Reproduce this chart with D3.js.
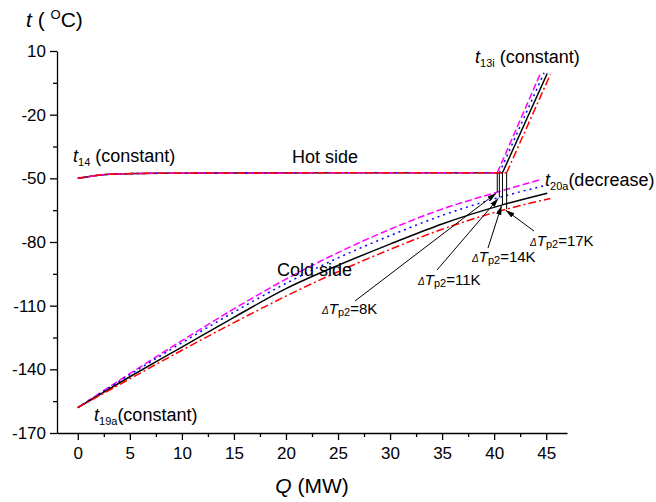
<!DOCTYPE html>
<html>
<head>
<meta charset="utf-8">
<script src="https://cdn.jsdelivr.net/npm/d3@7"></script>
<style>
  body { margin: 0; background: #fff; }
  svg { font-family: "Liberation Sans", Arial, sans-serif; }
  .axis path, .axis line { stroke: #000; stroke-width: 1.3; }
  .axis text { font-size: 17px; fill: #000; }
</style>
</head>
<body>
<div id="chart"></div>
<script>
// x ticks / y ticks
const xTicks = [0, 5, 10, 15, 20, 25, 30, 35, 40, 45];
const yTicks = [10, -20, -50, -80, -110, -140, -170];

// four pinch cases: dTp2 = 8, 11, 14, 17 K
const caseNames = ['8K', '11K', '14K', '17K'];
const caseColors = ['#ff00ff', '#0000ff', '#000000', '#ff0000'];
const caseDash = ['7,3', '2,4', null, '8,3,2,3'];

// hot side (common part before the pinch)
const hotQ = [0, 1, 2, 3, 4, 6, 8, 15, 25, 35];
const hotT = [-50, -49.2, -48.5, -48.1, -47.9, -47.7, -47.6, -47.5, -47.4, -47.4];
const pinchQ = [40.3, 40.5, 40.8, 41.2];
const pinchHotT = [-47.4, -47.4, -47.4, -47.4];
const hotEndQ = [44.5, 44.8, 45.1, 45.4];
const hotEndT = [0, -0.3, -0.6, -1];

// cold side
const coldQ = [0, 5, 10, 15, 20, 25, 30, 35];
const coldT8 = [-158, -142, -126.5, -111.5, -97.5, -85, -74, -64.5];
const coldT11 = [-158, -142.5, -127.5, -113, -99.5, -87.5, -77, -67.5];
const coldT14 = [-158, -143.5, -129.5, -115.5, -102, -91, -81, -71.5];
const coldT17 = [-158, -144.5, -131, -118, -105.5, -94, -83.5, -74];
const pinchColdT = [-56.5, -59, -62.5, -64.5];
const coldEndT = [-50.5, -53.5, -57, -59.5];
const coldSets = [coldT8, coldT11, coldT14, coldT17];

const W = 656, H = 502;
const svg = d3.select('#chart').append('svg').attr('width', W).attr('height', H);

const x = d3.scaleLinear().domain([-2, 47]).range([57, 567]);
const y = d3.scaleLinear().domain([-170, 10]).range([433, 51]);

// axes
const xMinor = d3.range(2.5, 45, 5);
const yMinor = d3.range(-155, 10, 30);
const fmt = d => String(d);

svg.append('g').attr('class', 'axis').attr('transform', `translate(0,${y(-170)})`)
  .call(d3.axisBottom(x).tickValues(xTicks).tickFormat(fmt).tickSize(7).tickSizeOuter(0).tickPadding(7));
svg.append('g').attr('class', 'axis').attr('transform', `translate(0,${y(-170)})`)
  .call(d3.axisBottom(x).tickValues(xMinor).tickSize(4).tickFormat(''))
  .select('.domain').remove();
svg.append('g').attr('class', 'axis').attr('transform', `translate(${x(-2)},0)`)
  .call(d3.axisLeft(y).tickValues(yTicks).tickFormat(fmt).tickSize(7).tickSizeOuter(0).tickPadding(4));
svg.append('g').attr('class', 'axis').attr('transform', `translate(${x(-2)},0)`)
  .call(d3.axisLeft(y).tickValues(yMinor).tickSize(4).tickFormat(''))
  .select('.domain').remove();

const line = d3.line().x(d => x(d[0])).y(d => y(d[1])).curve(d3.curveMonotoneX);
const plot = svg.append('g');

// cold curves
caseNames.forEach((c, i) => {
  const pts = coldQ.map((q, j) => [q, coldSets[i][j]]);
  pts.push([pinchQ[i], pinchColdT[i]], [hotEndQ[i], coldEndT[i]]);
  plot.append('path').datum(pts)
    .attr('d', line).attr('fill', 'none')
    .attr('stroke', caseColors[i]).attr('stroke-width', 1.5)
    .attr('stroke-dasharray', caseDash[i]);
});

// vertical pinch lines
caseNames.forEach((c, i) => {
  plot.append('line')
    .attr('x1', x(pinchQ[i])).attr('x2', x(pinchQ[i]))
    .attr('y1', y(pinchHotT[i])).attr('y2', y(pinchColdT[i]))
    .attr('stroke', '#000').attr('stroke-width', 1);
});

// hot curves, red drawn last
[2, 1, 0, 3].forEach(i => {
  const flat = hotQ.map((q, j) => [q, hotT[j]]);
  flat.push([pinchQ[i], pinchHotT[i]]);
  plot.append('path').datum(flat)
    .attr('d', line).attr('fill', 'none')
    .attr('stroke', caseColors[i]).attr('stroke-width', 1.5)
    .attr('stroke-dasharray', caseDash[i]);
  plot.append('path').datum([[pinchQ[i], pinchHotT[i]], [hotEndQ[i], hotEndT[i]]])
    .attr('d', d3.line().x(d => x(d[0])).y(d => y(d[1]))).attr('fill', 'none')
    .attr('stroke', caseColors[i]).attr('stroke-width', 1.5)
    .attr('stroke-dasharray', caseDash[i]);
});

// arrows
svg.append('defs').append('marker')
  .attr('id', 'arr').attr('viewBox', '0 -5 10 10')
  .attr('refX', 10).attr('refY', 0)
  .attr('markerWidth', 9).attr('markerHeight', 9)
  .attr('markerUnits', 'userSpaceOnUse')
  .attr('orient', 'auto')
  .append('path').attr('d', 'M0,-3L10,0L0,3Z').attr('fill', '#000');

const arrowFrom = [[355, 301], [437, 270], [488, 248], [534, 231]];
caseNames.forEach((c, i) => {
  plot.append('line')
    .attr('x1', arrowFrom[i][0]).attr('y1', arrowFrom[i][1])
    .attr('x2', x(pinchQ[i]) - 1).attr('y2', y(pinchColdT[i]) + 1)
    .attr('stroke', '#000').attr('stroke-width', 1)
    .attr('marker-end', 'url(#arr)');
});

// text helpers
function subLabel(px, py, main, sub, rest) {
  const t = svg.append('text').attr('x', px).attr('y', py).attr('font-size', 18);
  t.append('tspan').attr('font-style', 'italic').text(main);
  t.append('tspan').attr('font-size', 11).attr('dy', 4).text(sub);
  t.append('tspan').attr('dy', -4).text(rest);
  return t;
}

subLabel(73, 162, 't', '14', ' (constant)');
subLabel(475, 63, 't', '13i', '  (constant)');
subLabel(545, 186, 't', '20a', '(decrease)');
subLabel(94, 421, 't', '19a', '(constant)');

svg.append('text').attr('x', 292).attr('y', 163).attr('font-size', 18).text('Hot side');
svg.append('text').attr('x', 277).attr('y', 276).attr('font-size', 18).text('Cold side');

const dtPos = [[322, 314], [418, 285], [472, 262], [530, 246]];
caseNames.forEach((c, i) => {
  const t = svg.append('text').attr('x', dtPos[i][0]).attr('y', dtPos[i][1]).attr('font-size', 15);
  t.append('tspan').attr('font-size', 10).attr('font-style', 'italic').text('\u0394');
  t.append('tspan').attr('font-style', 'italic').text('T');
  t.append('tspan').attr('font-size', 11).attr('dy', 2).text('p2');
  t.append('tspan').attr('dy', -2).text('=' + c);
});

// axis titles
const yt = svg.append('text').attr('x', 26).attr('y', 27).attr('font-size', 21);
yt.append('tspan').attr('font-style', 'italic').text('t');
yt.append('tspan').text(' ( ');
yt.append('tspan').attr('font-size', 13).attr('dy', -8).text('O');
yt.append('tspan').attr('dy', 8).text('C)');

const xt = svg.append('text').attr('x', x(22.5)).attr('y', 493).attr('font-size', 21).attr('text-anchor', 'middle');
xt.append('tspan').attr('font-style', 'italic').text('Q');
xt.append('tspan').text(' (MW)');
</script>
</body>
</html>
